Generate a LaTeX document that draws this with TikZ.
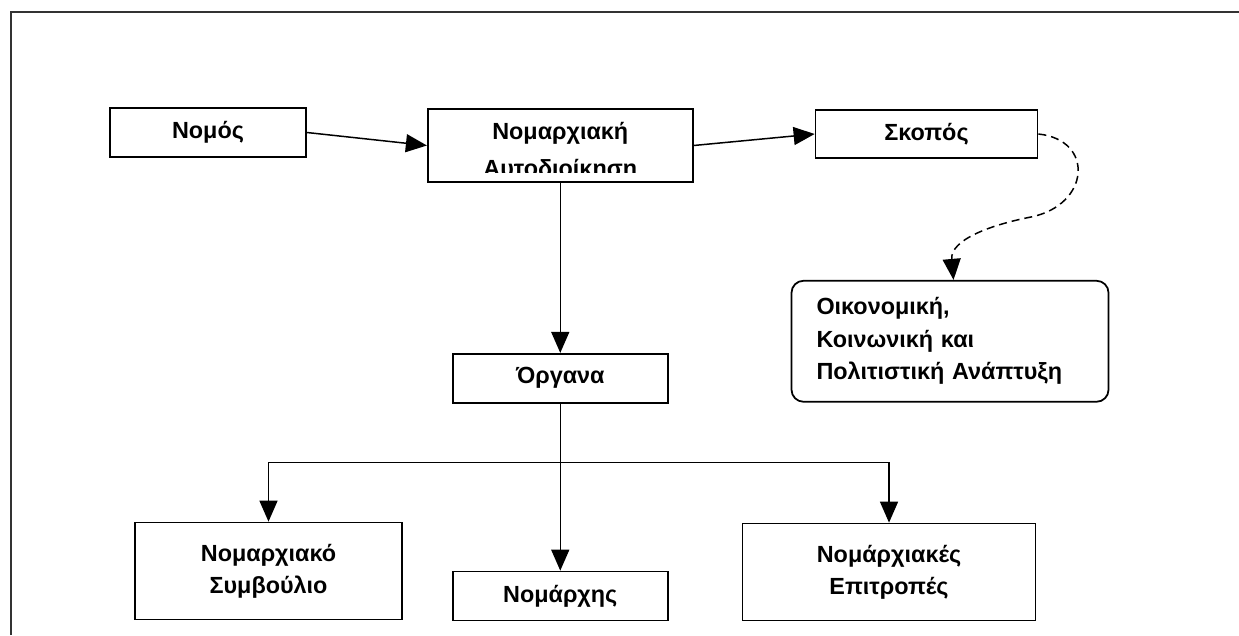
\documentclass[tikz,border=0pt]{standalone}
\usepackage{fontspec}
\setmainfont{Liberation Sans}
\usepackage{tikz}
\usetikzlibrary{shapes,arrows,arrows.meta,positioning,calc}

\begin{document}
\begin{tikzpicture}[
    node distance=1cm,
    box/.style={rectangle, draw=black, line width=1pt, align=center, inner sep=0pt, font=\bfseries\fontsize{13.3}{18}\selectfont},
    goalbox/.style={rectangle, rounded corners=0.24cm, draw=black, line width=1pt, align=left, text width=5.34cm, inner xsep=0.5cm, font=\bfseries\fontsize{13.3}{18.5}\selectfont},
    arrow/.style={-{Triangle[length=0.42cm, width=0.36cm]}, line width=0.85pt},
    dasharrow/.style={-{Triangle[length=0.42cm, width=0.36cm]}, line width=0.85pt, dash pattern=on 0.16cm off 0.1cm},
    frame/.style={draw=black!80, line width=1.1pt}
]
    \useasboundingbox[fill=white] (0,0) rectangle (24.78,-12.7);
    \draw[frame] (0.22,-12.7) -- (0.22,-0.24) -- (24.78,-0.24);

    \node[box, minimum width=3.92cm, minimum height=0.98cm] (nomos) at (4.16,-2.65) {Νομός};
    \node[box, minimum width=5.3cm, minimum height=1.46cm, right=2.4cm of nomos, yshift=-0.26cm] (nomarx) {};
    \begin{scope}
        \clip (nomarx.north west) rectangle ([yshift=0.2cm]nomarx.south east);
        \node[align=center, font=\bfseries\fontsize{13.3}{21}\selectfont, yshift=-0.12cm] (nomarxtext) at (nomarx) {Νομαρχιακή\\Αυτοδιοίκηση};
    \end{scope}
    \node[box, minimum width=4.44cm, minimum height=0.96cm, right=2.42cm of nomarx, yshift=0.23cm] (skopos) {Σκοπός};
    \node[goalbox, minimum height=2.42cm, below=2.42cm of skopos, xshift=0.47cm] (anaptyxi) {Οικονομική,\\Κοινωνική και\\Πολιτιστική Ανάπτυξη};

    \node[box, minimum width=4.3cm, minimum height=0.98cm, below=3.4cm of nomarx] (organa) {Όργανα};
    \node[box, minimum width=4.3cm, minimum height=0.98cm, below=3.34cm of organa] (nomarchis) {Νομάρχης};
    \node[box, minimum width=5.34cm, minimum height=1.94cm, left=0.98cm of nomarchis, yshift=0.5cm] (symvoulio) {Νομαρχιακό\\Συμβούλιο};
    \node[box, minimum width=5.86cm, minimum height=1.94cm, right=1.46cm of nomarchis, yshift=0.48cm] (epitropes) {Νομάρχιακές\\Επιτροπές};
    \coordinate[below=1.18cm of organa] (fork);

    \draw[arrow] (nomos.east) -- (nomarx.west);
    \draw[arrow] (nomarx.east) -- (skopos.west);
    \draw[dasharrow] (skopos.east) .. controls (21.9,-2.8) and (21.8,-4.1) .. (20.62,-4.34)
        .. controls (19.8,-4.5) and (19.0,-4.8) .. ([xshift=0.07cm]anaptyxi.north);
    \draw[arrow] (nomarx) -- (organa);
    \draw[arrow] (organa) -- (nomarchis);
    \draw[arrow] (fork) -| (symvoulio);
    \draw[arrow] (fork) -| (epitropes);
\end{tikzpicture}
\end{document}
